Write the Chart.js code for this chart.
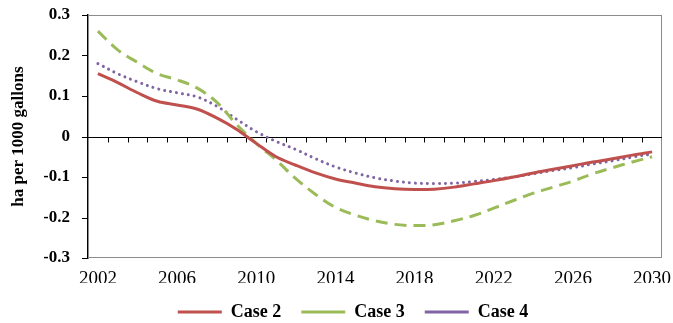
<!DOCTYPE html>
<html>
<head>
<meta charset="utf-8">
<script src="https://cdn.jsdelivr.net/npm/chart.js@4/dist/chart.umd.min.js"></script>
<style>
  html, body { margin: 0; padding: 0; background: #fff; }
  #wrap { width: 673px; height: 323px; }
</style>
</head>
<body>
<div id="wrap"><canvas id="chart" width="673" height="323"></canvas></div>
<script>
// Years on the category axis
const years = ['2002','2003','2004','2005','2006','2007','2008','2009','2010','2011',
               '2012','2013','2014','2015','2016','2017','2018','2019','2020','2021',
               '2022','2023','2024','2025','2026','2027','2028','2029','2030'];
// Years that carry a label
const labelledYears = ['2002','2006','2010','2014','2018','2022','2026','2030'];

// ha per 1000 gallons
const case2 = [0.155, 0.133, 0.108, 0.087, 0.078, 0.068, 0.046, 0.018, -0.017, -0.05,
               -0.071, -0.09, -0.105, -0.115, -0.124, -0.129, -0.131, -0.13, -0.125, -0.117,
               -0.109, -0.1, -0.09, -0.081, -0.072, -0.063, -0.055, -0.046, -0.038];
const case3 = [0.26, 0.214, 0.183, 0.155, 0.14, 0.12, 0.085, 0.03, -0.017, -0.058,
               -0.104, -0.143, -0.175, -0.194, -0.208, -0.217, -0.22, -0.218, -0.208, -0.195,
               -0.177, -0.158, -0.14, -0.125, -0.11, -0.092, -0.077, -0.063, -0.05];
const case4 = [0.18, 0.155, 0.135, 0.118, 0.108, 0.098, 0.075, 0.043, 0.012, -0.012,
               -0.032, -0.055, -0.075, -0.09, -0.102, -0.11, -0.115, -0.116, -0.115, -0.111,
               -0.106, -0.1, -0.092, -0.084, -0.077, -0.068, -0.06, -0.051, -0.043];

const yTicks = [0.3, 0.2, 0.1, 0, -0.1, -0.2, -0.3];

const SERIF = "'Liberation Serif', 'Times New Roman', serif";

// Plot-area frame, outward tick marks on the value axis, and the
// horizontal axis line at zero with a tick between every year
const framePlugin = {
  id: 'frame',
  beforeDatasetsDraw(chart) {
    const { ctx, chartArea: a, scales: { x, y } } = chart;
    ctx.save();
    ctx.strokeStyle = '#8c8c8c';
    ctx.lineWidth = 1;
    ctx.strokeRect(a.left + 0.5, a.top + 0.5, a.right - a.left - 1, a.bottom - a.top - 1);

    ctx.strokeStyle = '#000';
    ctx.beginPath();
    yTicks.forEach(v => {
      const py = Math.round(y.getPixelForValue(v)) + 0.5;
      ctx.moveTo(a.left - 6, py);
      ctx.lineTo(a.left, py);
    });
    const y0 = Math.round(y.getPixelForValue(0)) + 0.5;
    ctx.moveTo(a.left, y0);
    ctx.lineTo(a.right, y0);
    for (let i = 1; i < years.length; i++) {
      const px = Math.round((x.getPixelForValue(i - 1) + x.getPixelForValue(i)) / 2) + 0.5;
      ctx.moveTo(px, y0);
      ctx.lineTo(px, y0 + 5);
    }
    ctx.stroke();
    ctx.restore();
  }
};

const common = { pointRadius: 0, pointHoverRadius: 0, borderWidth: 3, tension: 0.35, fill: false, pointStyle: 'line' };

new Chart(document.getElementById('chart'), {
  type: 'line',
  data: {
    labels: years,
    datasets: [
      Object.assign({ label: 'Case 2', data: case2, borderColor: '#c0504d', backgroundColor: '#c0504d' }, common),
      Object.assign({ label: 'Case 3', data: case3, borderColor: '#9bbb59', backgroundColor: '#9bbb59', borderDash: [12, 7] }, common),
      Object.assign({ label: 'Case 4', data: case4, borderColor: '#8064a2', backgroundColor: '#8064a2', borderDash: [0.01, 6], borderCapStyle: 'round' }, common)
    ]
  },
  options: {
    responsive: false,
    animation: false,
    devicePixelRatio: 1,
    layout: { padding: { left: 44, right: 11, top: 15, bottom: -8 } },
    plugins: {
      tooltip: { enabled: false },
      legend: {
        position: 'bottom',
        labels: {
          usePointStyle: true,
          pointStyleWidth: 44,
          boxHeight: 3,
          padding: 20,
          color: '#000',
          font: { family: SERIF, size: 18, weight: 'bold' }
        }
      }
    },
    scales: {
      x: {
        offset: true,
        grid: { display: false, drawTicks: false },
        border: { display: false },
        ticks: {
          autoSkip: false,
          maxRotation: 0,
          padding: 10,
          color: '#000',
          font: { family: SERIF, size: 19 },
          callback: (v, i) => labelledYears.includes(years[i]) ? years[i] : ''
        },
        afterFit: s => { s.height = 25; s.paddingLeft = 0; s.paddingRight = 0; }
      },
      y: {
        min: -0.3,
        max: 0.3,
        afterBuildTicks: s => { s.ticks = yTicks.map(v => ({ value: v })); },
        grid: { drawOnChartArea: false, drawTicks: false },
        border: { display: true, color: '#000', width: 1.5 },
        ticks: {
          padding: 18,
          color: '#000',
          font: { family: SERIF, size: 17, weight: 'bold' },
          callback: v => String(Math.round(v * 10) / 10)
        },
        title: {
          display: true,
          text: 'ha per 1000 gallons',
          color: '#000',
          padding: { top: -36, bottom: 0 },
          font: { family: SERIF, size: 17, weight: 'bold' }
        },
        afterFit: s => { s.width = 44; s.paddingTop = 0; s.paddingBottom = 0; }
      }
    }
  },
  plugins: [framePlugin]
});
</script>
</body>
</html>
